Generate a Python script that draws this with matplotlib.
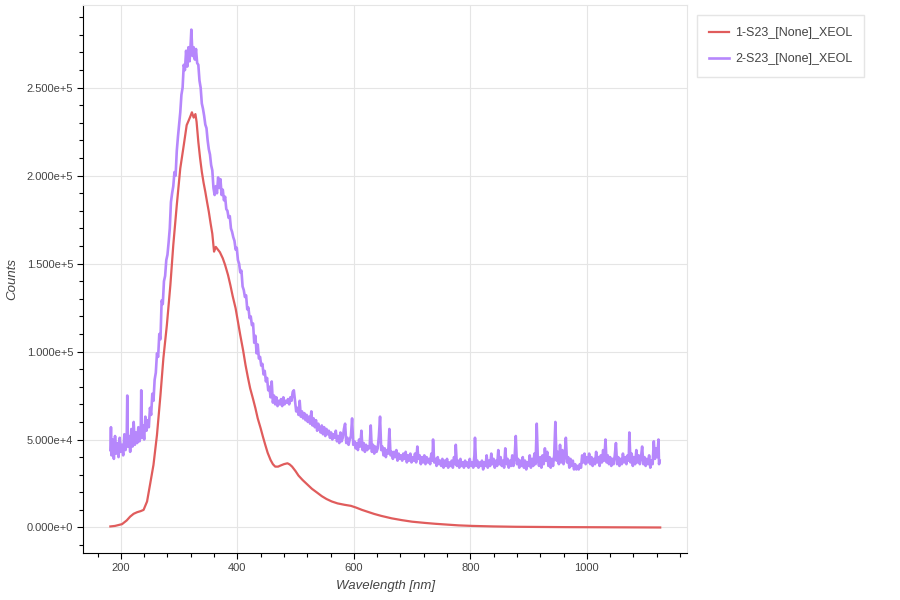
import matplotlib
matplotlib.use('Agg')
import matplotlib.pyplot as plt
from matplotlib.ticker import MultipleLocator, FuncFormatter

# XEOL spectra, values: (wavelength nm, counts)
red_label = '1-S23_[None]_XEOL'
purple_label = '2-S23_[None]_XEOL'

red_points = [
    (182, 600), (190, 900), (202, 1900), (210, 4000), (216, 6200), (222, 7800),
    (228, 8700), (234, 9300), (239, 10000), (245, 14800), (250, 24200), (256, 35600),
    (262, 52600), (268, 75300), (273, 96200), (279, 115100), (285, 137800), (290, 160500),
    (296, 183200), (302, 204100), (308, 217300), (313, 228700), (316, 231000), (319, 233400),
    (322, 236000), (325, 233000), (328, 235000), (330, 230600), (333, 219200), (336, 210000),
    (339, 202200), (342, 196000), (345, 190800), (348, 185000), (351, 179500), (354, 173000),
    (357, 167000), (360, 156800), (363, 159500), (366, 158200), (370, 156500), (375, 153000),
    (379, 149200), (384, 143500), (388, 137800), (392, 131500), (397, 124600), (401, 117000),
    (405, 109400), (410, 100500), (414, 92400), (418, 85500), (422, 79100), (427, 73000),
    (431, 67800), (435, 62000), (440, 56400), (444, 51500), (448, 46900), (452, 42500),
    (457, 38400), (461, 36000), (465, 34600), (470, 34600), (474, 35200), (480, 36000),
    (486, 36500), (490, 35800), (494, 34600), (500, 32000), (505, 29500), (512, 27000),
    (520, 24500), (528, 22000), (537, 19800), (545, 17800), (553, 16200), (562, 14800),
    (572, 13700), (584, 12900), (595, 12300), (604, 11300), (614, 10000), (624, 8900),
    (635, 7700), (647, 6600), (665, 5200), (682, 4200), (700, 3300), (722, 2600),
    (740, 2100), (762, 1600), (780, 1200), (803, 900), (840, 600), (878, 400),
    (920, 300), (964, 200), (1010, 150), (1050, 100), (1090, 50), (1126, 0),
]

purple_start = [
    (182, 44000), (183, 57000), (184, 41000), (186, 50000), (188, 39000), (190, 52000),
    (192, 42000), (194, 48000), (196, 40000), (198, 51000), (200, 43000), (202, 47000),
    (204, 41000), (206, 53000), (208, 44000), (210, 49000), (211, 75000), (212, 46000),
    (214, 52000), (216, 43000), (218, 56000), (220, 46000), (222, 60000), (224, 47000),
    (226, 54000), (228, 48000), (230, 57000), (232, 49000), (234, 52000), (235, 78000),
    (236, 51000), (238, 58000), (240, 50000), (242, 63000), (244, 55000), (246, 61000),
    (248, 57000), (250, 68000),
]

purple_peak = [
    (252, 64000), (254, 76000), (256, 72000), (258, 84000), (260, 88000), (262, 99000),
    (264, 97000), (266, 110000), (268, 107000), (270, 129000), (272, 127000), (274, 140000),
    (276, 143000), (278, 152000), (280, 155000), (282, 162000), (284, 170000), (286, 185000),
    (288, 190000), (290, 194000), (292, 202000), (294, 200000), (296, 214000), (298, 222000),
    (300, 229000), (302, 236000), (304, 246000), (306, 250000), (308, 263000), (310, 260000),
    (312, 271000), (314, 262000), (316, 273000), (318, 265000), (320, 276000), (321, 283000),
    (323, 268000), (325, 273000), (327, 266000), (329, 272000), (331, 264000), (333, 263000),
    (335, 254000), (337, 250000), (339, 241000), (341, 238000), (343, 234000), (345, 229000),
    (347, 227000), (349, 220000), (351, 215000), (353, 212000), (355, 206000), (357, 203000),
    (359, 193000), (361, 189000), (363, 194000), (365, 190000), (367, 199000), (369, 193000),
    (371, 198000), (373, 189000), (375, 192000), (377, 186000), (379, 188000), (381, 181000),
    (383, 180000), (385, 176000), (387, 177000), (389, 170000), (391, 168000), (393, 165000),
    (395, 163000), (397, 158000), (399, 159000), (401, 152000), (403, 150000), (405, 145000),
    (407, 146000), (409, 137000), (411, 135000), (413, 131000), (415, 132000), (417, 124000),
    (419, 125000), (421, 119000), (423, 120000), (425, 115000), (427, 116000), (429, 105000),
    (431, 109000), (433, 99000), (435, 104000), (437, 96000), (439, 97000), (441, 92000),
    (443, 93000), (445, 87000), (447, 89000), (449, 83000), (451, 85000), (453, 78000),
    (455, 80000), (457, 74000), (459, 83000), (461, 71000), (463, 75000), (465, 70000),
    (467, 74000), (469, 69000), (471, 72000), (473, 70000), (475, 73000), (477, 69000),
    (479, 74000), (481, 70000), (483, 72000), (485, 71000), (487, 73000), (489, 70000),
    (491, 74000), (493, 72000), (495, 77000), (497, 78000), (499, 72000),
]

purple_tail = [
    (501, 66000), (503, 68000), (505, 64000), (507, 72000), (509, 63000), (511, 66000),
    (513, 62000), (515, 65000), (517, 61000), (519, 64000), (521, 60000), (523, 63000),
    (525, 59000), (527, 66000), (529, 58000), (531, 62000), (533, 57000), (535, 61000),
    (537, 55000), (539, 59000), (541, 56000), (543, 54000), (545, 58000), (547, 53000),
    (549, 57000), (551, 52000), (553, 56000), (555, 53000), (557, 55000), (559, 51000),
    (561, 54000), (563, 50000), (565, 53000), (567, 51000), (569, 55000), (571, 49000),
    (573, 52000), (575, 48000), (577, 54000), (579, 49000), (581, 51000), (583, 56000),
    (585, 59000), (587, 48000), (589, 51000), (591, 47000), (593, 50000), (595, 52000),
    (597, 62000), (599, 47000), (601, 49000), (603, 45000), (605, 48000), (607, 44000),
    (609, 50000), (611, 46000), (613, 55000), (615, 44000), (617, 48000), (619, 43000),
    (621, 47000), (623, 44000), (625, 46000), (627, 45000), (629, 58000), (631, 43000),
    (633, 47000), (635, 42000), (637, 46000), (639, 43000), (641, 45000), (643, 52000),
    (645, 63000), (647, 44000), (649, 46000), (651, 41000), (653, 45000), (655, 40000),
    (657, 44000), (659, 42000), (661, 56000), (663, 41000), (665, 43000), (667, 39000),
    (669, 43000), (671, 40000), (673, 44000), (675, 38000), (677, 42000), (679, 39000),
    (681, 41000), (683, 38000), (685, 42000), (687, 39000), (689, 43000), (691, 37000),
    (693, 41000), (695, 38000), (697, 42000), (699, 37000), (701, 40000), (703, 38000),
    (705, 42000), (707, 37000), (709, 46000), (711, 39000), (713, 41000), (715, 36000),
    (717, 40000), (719, 37000), (721, 41000), (723, 36000), (725, 40000), (727, 37000),
    (729, 39000), (731, 36000), (733, 42000), (735, 38000), (736, 50000), (738, 37000),
    (740, 39000), (742, 35000), (744, 40000), (746, 36000), (748, 38000), (750, 35000),
    (752, 39000), (754, 34000), (756, 38000), (758, 35000), (760, 39000), (762, 34000),
    (764, 37000), (766, 35000), (768, 38000), (770, 34000), (772, 40000), (774, 36000),
    (775, 47000), (777, 35000), (779, 38000), (781, 34000), (783, 39000), (785, 35000),
    (787, 37000), (789, 34000), (791, 38000), (793, 35000), (795, 37000), (797, 34000),
    (799, 39000), (801, 35000), (803, 37000), (805, 34000), (807, 41000), (808, 51000),
    (810, 35000), (812, 38000), (814, 34000), (816, 37000), (818, 35000), (820, 38000),
    (822, 33000), (824, 37000), (826, 35000), (828, 41000), (830, 34000), (832, 38000),
    (834, 35000), (836, 42000), (838, 36000), (840, 39000), (842, 34000), (844, 38000),
    (846, 35000), (848, 44000), (850, 36000), (852, 40000), (854, 35000), (856, 38000),
    (858, 34000), (860, 45000), (862, 36000), (864, 39000), (866, 34000), (868, 38000),
    (870, 35000), (872, 41000), (874, 35000), (876, 40000), (878, 52000), (880, 36000),
    (882, 39000), (884, 34000), (886, 38000), (888, 35000), (890, 40000), (892, 34000),
    (894, 38000), (896, 33000), (898, 37000), (900, 35000), (902, 41000), (904, 34000),
    (906, 39000), (908, 35000), (910, 42000), (912, 36000), (914, 59000), (916, 38000),
    (918, 35000), (920, 40000), (922, 34000), (924, 41000), (926, 36000), (928, 45000),
    (930, 38000), (932, 43000), (934, 35000), (936, 40000), (938, 34000), (940, 39000),
    (942, 35000), (944, 41000), (946, 60000), (948, 38000), (950, 43000), (952, 36000),
    (954, 47000), (956, 37000), (958, 44000), (960, 36000), (962, 41000), (964, 51000),
    (966, 37000), (968, 40000), (970, 34000), (972, 39000), (974, 35000), (976, 38000),
    (978, 33000), (980, 36000), (982, 33000), (984, 35000), (986, 33000), (988, 36000),
    (990, 34000), (992, 41000), (994, 37000), (996, 42000), (998, 36000), (1000, 40000),
    (1002, 37000), (1004, 42000), (1006, 36000), (1008, 40000), (1010, 35000), (1012, 39000),
    (1014, 36000), (1016, 43000), (1018, 37000), (1020, 40000), (1022, 35000), (1024, 41000),
    (1026, 37000), (1028, 44000), (1030, 38000), (1032, 50000), (1034, 37000), (1036, 41000),
    (1038, 36000), (1040, 40000), (1042, 35000), (1044, 39000), (1046, 36000), (1048, 41000),
    (1050, 48000), (1052, 36000), (1054, 40000), (1056, 35000), (1058, 39000), (1060, 36000),
    (1062, 42000), (1064, 37000), (1066, 40000), (1068, 36000), (1070, 41000), (1072, 38000),
    (1073, 54000), (1075, 37000), (1077, 42000), (1079, 35000), (1081, 40000), (1083, 36000),
    (1085, 44000), (1087, 37000), (1089, 41000), (1091, 36000), (1093, 40000), (1095, 46000),
    (1097, 36000), (1099, 40000), (1101, 35000), (1103, 39000), (1105, 36000), (1107, 41000),
    (1109, 34000), (1111, 38000), (1113, 36000), (1115, 49000), (1117, 39000), (1119, 45000),
    (1121, 40000), (1123, 50000), (1124, 36000), (1125, 38000),
]

red_nm, red_counts = zip(*red_points)
purple_nm, purple_counts = zip(*(purple_start + purple_peak + purple_tail))

red_color = '#e05c5c'
purple_color = '#b687fc'
grid_color = '#e5e5e5'
text_color = '#444444'

plt.rcParams['font.family'] = ['Liberation Sans', 'DejaVu Sans']

figure = plt.figure(figsize=(9, 6), dpi=100)
ax = figure.add_axes([83 / 900, 1 - 553 / 600, 604 / 900, 548 / 600])

ax.plot(red_nm, red_counts, color=red_color, lw=1.6, label=red_label)
ax.plot(purple_nm, purple_counts, color=purple_color, lw=1.9, label=purple_label)

ax.set_xlim(135, 1172)
ax.set_ylim(-14500, 297000)

ax.xaxis.set_major_locator(MultipleLocator(200))
ax.xaxis.set_minor_locator(MultipleLocator(40))
ax.yaxis.set_major_locator(MultipleLocator(50000))
ax.yaxis.set_minor_locator(MultipleLocator(10000))


def bokeh_sci(v, pos):
    mant, exp = f'{v:.3e}'.split('e')
    sign = '-' if exp[0] == '-' else '+'
    return f'{mant}e{sign}{int(exp[1:])}'


ax.yaxis.set_major_formatter(FuncFormatter(bokeh_sci))

ax.grid(True, which='major', color=grid_color, lw=0.8)
ax.set_axisbelow(True)

for side in ['top', 'right']:
    ax.spines[side].set_color(grid_color)
    ax.spines[side].set_linewidth(0.8)
for side in ['left', 'bottom']:
    ax.spines[side].set_color('black')
    ax.spines[side].set_linewidth(0.8)

ax.tick_params(which='major', direction='out', length=4.5, width=0.8, color='black',
               labelsize=8, labelcolor=text_color, pad=2.5)
ax.tick_params(which='minor', direction='out', length=2.8, width=0.8, color='black')

ax.set_xlabel('Wavelength [nm]', fontsize=9.5, style='italic', color=text_color, labelpad=5)
ax.set_ylabel('Counts', fontsize=9.5, style='italic', color=text_color, labelpad=6)

figure.legend(loc='upper left', bbox_to_anchor=(697 / 900, 1 - 15 / 600),
              borderaxespad=0, fontsize=9, frameon=True, fancybox=False,
              edgecolor=grid_color, framealpha=1, borderpad=0.95, labelspacing=1.15,
              handlelength=1.6, handletextpad=0.5, labelcolor=text_color)

plt.savefig('out.png', dpi=100)
